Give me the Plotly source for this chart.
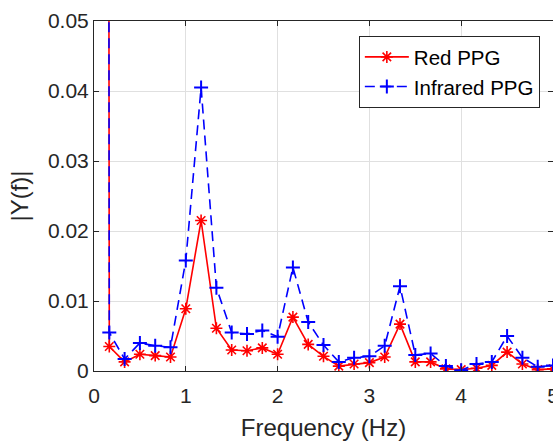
import plotly.graph_objects as go

freq = [0.0, 0.1667, 0.3333, 0.5, 0.6667, 0.8333, 1.0, 1.1667, 1.3333, 1.5, 1.6667,
        1.8333, 2.0, 2.1667, 2.3333, 2.5, 2.6667, 2.8333, 3.0, 3.1667, 3.3333,
        3.5, 3.6667, 3.8333, 4.0, 4.1667, 4.3333, 4.5, 4.6667, 4.8333, 5.0]

red_ppg = [2.0, 0.0035, 0.0013, 0.0024, 0.0022, 0.0020, 0.0089, 0.0215, 0.0061, 0.0030, 0.0029,
           0.0033, 0.0024, 0.0077, 0.0038, 0.0021, 0.0007, 0.0010, 0.0012, 0.0020, 0.0067,
           0.0013, 0.0013, 0.0003, 0.0002, 0.0004, 0.0008, 0.0027, 0.0010, 0.0002, 0.0003]

ir_ppg = [1.9, 0.0055, 0.0017, 0.0040, 0.0036, 0.0034, 0.0158, 0.0405, 0.0119, 0.0055, 0.0053,
          0.0058, 0.0049, 0.0148, 0.0070, 0.0037, 0.0013, 0.0019, 0.0021, 0.0036, 0.0121,
          0.0023, 0.0025, 0.0007, 0.0001, 0.0010, 0.0013, 0.0050, 0.0019, 0.0006, 0.0008]

x_ticks = [0, 1, 2, 3, 4, 5]
y_ticks = [0, 0.01, 0.02, 0.03, 0.04, 0.05]
y_tick_labels = ["0", "0.01", "0.02", "0.03", "0.04", "0.05"]

FONT = "Arial, Liberation Sans, sans-serif"
AX = "#262626"

fig = go.Figure()
fig.add_trace(go.Scatter(
    x=freq, y=red_ppg, name="Red PPG", mode="lines+markers",
    line=dict(color="#ff0000", width=1.6),
    marker=dict(symbol="asterisk-open", size=10, color="#ff0000",
                line=dict(color="#ff0000", width=1.6)),
))
fig.add_trace(go.Scatter(
    x=freq, y=ir_ppg, name="Infrared PPG", mode="lines+markers",
    line=dict(color="#0000ff", width=1.6, dash="10px,6px"),
    marker=dict(symbol="cross-thin-open", size=10, color="#0000ff",
                line=dict(color="#0000ff", width=2)),
))

fig.update_layout(
    width=553, height=441,
    margin=dict(l=94, r=0, t=21, b=70, autoexpand=False),
    paper_bgcolor="white", plot_bgcolor="white",
    font=dict(family=FONT, color=AX, size=20),
    showlegend=True,
    legend=dict(
        x=0.577, y=0.957, xanchor="left", yanchor="top",
        bgcolor="white", bordercolor=AX, borderwidth=1,
        font=dict(size=20.5, color="#000000"),
        tracegroupgap=0, itemwidth=44,
    ),
)
fig.update_xaxes(
    range=[0, 5], tickvals=x_ticks, ticks="inside", ticklen=5,
    tickcolor=AX, showline=True, linecolor=AX, linewidth=1, mirror="ticks",
    showgrid=True, gridcolor="#e0e0e0", gridwidth=1, zeroline=False,
    automargin=False, ticklabeloverflow="allow", ticklabelstandoff=6,
    tickfont=dict(size=21, color=AX),
    title=dict(text="Frequency (Hz)", font=dict(size=24, color=AX), standoff=12),
)
fig.update_yaxes(
    range=[0, 0.05], tickvals=y_ticks, ticktext=y_tick_labels, ticks="inside", ticklen=5,
    tickcolor=AX, showline=True, linecolor=AX, linewidth=1, mirror="ticks",
    showgrid=True, gridcolor="#e0e0e0", gridwidth=1, zeroline=False,
    automargin=False,
    tickfont=dict(size=21, color=AX),
    title=dict(text="|Y(f)|", font=dict(size=24, color=AX), standoff=12),
)

fig.write_html(
    "out.html",
    config={"displayModeBar": False},
    post_script="document.body.style.margin='0';document.body.style.padding='0';",
)
